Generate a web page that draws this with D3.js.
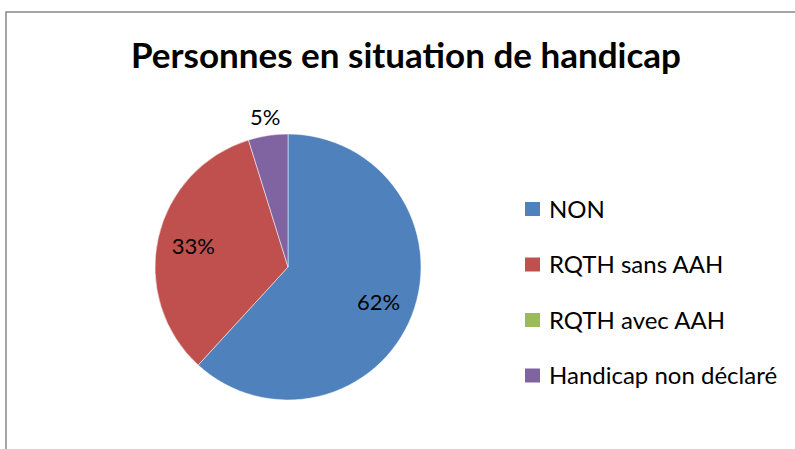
<!DOCTYPE html>
<html lang="fr">
<head>
    <meta charset="UTF-8">
    <title>Personnes en situation de handicap</title>
    <script src="https://d3js.org/d3.v7.min.js"></script>
    <style>
        body, html {
            margin: 0;
            padding: 0;
            width: 100%;
            height: 100%;
            overflow: hidden;
            background: #fff;
        }
        svg {
            display: block;
        }
        text {
            font-family: Lato, "Noto Sans", sans-serif;
            fill: #000;
        }
    </style>
</head>
<body>
    <svg></svg>

    <script>
        // data
        const categories = ["NON", "RQTH sans AAH", "RQTH avec AAH", "Handicap non déclaré"];
        const values = [61.8, 33.4, 0, 4.8];
        const labels = ["62%", "33%", "", "5%"];
        const colors = ["#4F81BD", "#C0504D", "#9BBB59", "#8064A2"];

        const width = 795, height = 449;
        const svg = d3.select("svg").attr("width", width).attr("height", height);

        // chart frame (runs off right and bottom)
        svg.append("rect")
            .attr("x", 6).attr("y", 12)
            .attr("width", 820).attr("height", 460)
            .attr("fill", "none")
            .attr("stroke", "#868686")
            .attr("stroke-width", 1.5);

        svg.append("text")
            .attr("x", 406)
            .attr("y", 68)
            .attr("text-anchor", "middle")
            .attr("font-size", 35)
            .attr("font-weight", "bold")
            .text("Personnes en situation de handicap");

        const cx = 288, cy = 267, r = 133;
        const data = categories.map((c, i) => ({name: c, value: values[i], label: labels[i], color: colors[i]}));

        const pie = d3.pie().sort(null).value(d => d.value);
        const arc = d3.arc().innerRadius(0).outerRadius(r);
        const arcs = pie(data);

        const g = svg.append("g").attr("transform", `translate(${cx},${cy})`);

        g.selectAll("path")
            .data(arcs.filter(d => d.data.value > 0))
            .enter().append("path")
            .attr("d", arc)
            .attr("fill", d => d.data.color)
            .attr("stroke", "#fff")
            .attr("stroke-width", 0.5);

        // label placement: inside for big slices, outside for small one
        const inner = d3.arc().innerRadius(r * 0.73).outerRadius(r * 0.73);
        const outer = d3.arc().innerRadius(r + 19).outerRadius(r + 19);

        g.selectAll(".lbl")
            .data(arcs.filter(d => d.data.label))
            .enter().append("text")
            .attr("class", "lbl")
            .attr("transform", d => {
                const p = (d.endAngle - d.startAngle) < 0.5 ? outer.centroid(d) : inner.centroid(d);
                return `translate(${p})`;
            })
            .attr("text-anchor", "middle")
            .attr("dy", "0.36em")
            .attr("font-size", 22)
            .text(d => d.data.label);

        // legend
        const legend = svg.append("g").attr("transform", "translate(525,209)");
        const item = legend.selectAll("g")
            .data(data)
            .enter().append("g")
            .attr("transform", (d, i) => `translate(0,${i * 55.5})`);

        item.append("rect")
            .attr("x", 0).attr("y", -7)
            .attr("width", 15).attr("height", 14)
            .attr("fill", d => d.color);

        item.append("text")
            .attr("x", 24)
            .attr("dy", "0.36em")
            .attr("font-size", 24)
            .text(d => d.name);
    </script>
</body>
</html>
